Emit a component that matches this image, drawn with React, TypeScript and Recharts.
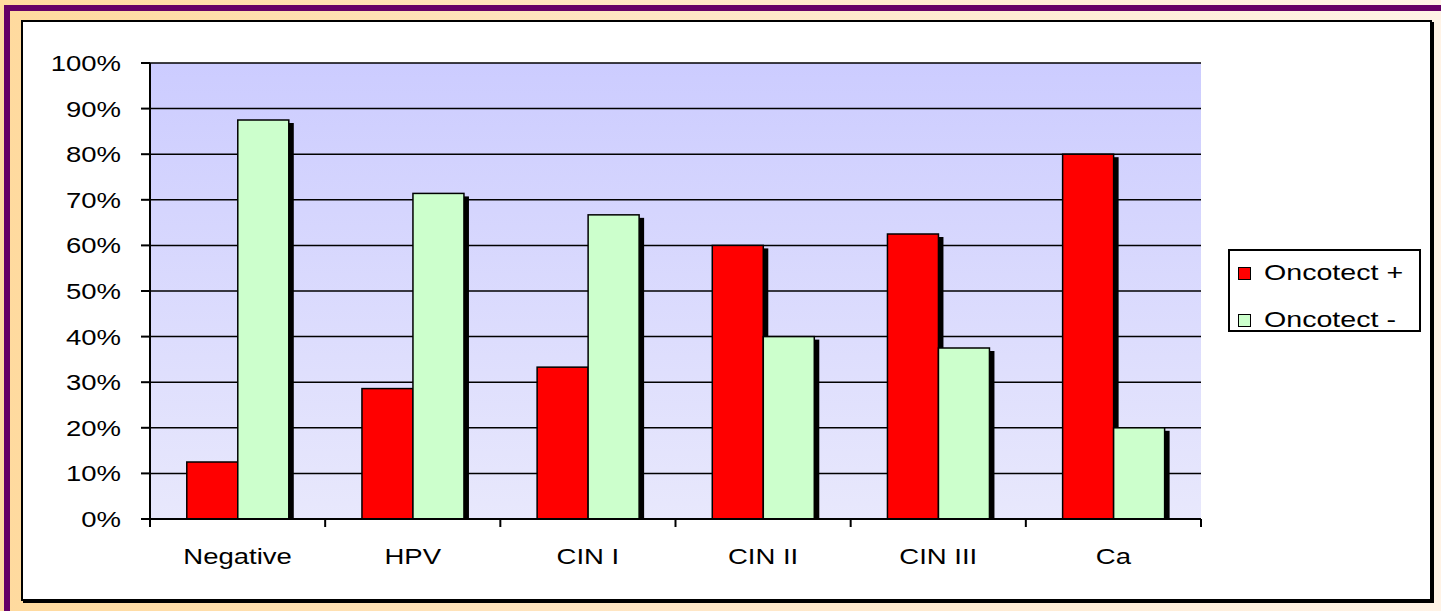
import React from 'react';
import { BarChart, Bar, XAxis, YAxis, CartesianGrid, Legend } from 'recharts';

const categories = ['Negative', 'HPV', 'CIN I', 'CIN II', 'CIN III', 'Ca'];
const oncotectPos = [12.5, 28.6, 33.3, 60, 62.5, 80];
const oncotectNeg = [87.5, 71.4, 66.7, 40, 37.5, 20];
const yTicks = [0, 10, 20, 30, 40, 50, 60, 70, 80, 90, 100];
const seriesNames = ['Oncotect +', 'Oncotect -'];
const seriesColors = ['#FF0000', '#CCFFCC'];

const data = categories.map((name, i) => ({
  name,
  pos: oncotectPos[i],
  neg: oncotectNeg[i],
}));

const FONT = '"Liberation Sans", Arial, sans-serif';

// bar with the old-excel black drop shadow
const ShadowBar = (props: any) => {
  const { x, y, width, height, fill } = props;
  if (!height || height <= 0) return null;
  return (
    <g>
      <rect x={x + 5} y={y + 3} width={width} height={Math.max(0, height - 3)} fill="#000" />
      <rect x={x} y={y} width={width} height={height} fill={fill} stroke="#000" strokeWidth={1.5} />
    </g>
  );
};

const YTick = (props: any) => {
  const { x, y, payload } = props;
  return (
    <text
      transform={`translate(${x},${y + 8}) scale(1.25,1)`}
      textAnchor="end"
      fontFamily={FONT}
      fontSize={22}
      fill="#000"
    >
      {`${payload.value}%`}
    </text>
  );
};

const XTick = (props: any) => {
  const { x, y, payload, index, visibleTicksCount, width } = props;
  const half = payload && payload.offset ? payload.offset : width / visibleTicksCount / 2;
  const last = index === visibleTicksCount - 1;
  return (
    <g>
      <line x1={x - half} x2={x - half} y1={y} y2={y + 8} stroke="#000" strokeWidth={2} />
      {last && <line x1={x + half} x2={x + half} y1={y} y2={y + 8} stroke="#000" strokeWidth={2} />}
      <text
        transform={`translate(${x},${y + 45}) scale(1.25,1)`}
        textAnchor="middle"
        fontFamily={FONT}
        fontSize={22}
        fill="#000"
      >
        {payload.value}
      </text>
    </g>
  );
};

const LegendBox = () => (
  <div
    style={{
      position: 'relative',
      width: 193,
      height: 83,
      border: '2px solid #000',
      background: '#fff',
      boxSizing: 'border-box',
      fontFamily: FONT,
      fontSize: 22,
      color: '#000',
    }}
  >
    {seriesNames.map((n, i) => (
      <div
        key={n}
        style={{
          position: 'absolute',
          left: 8,
          top: 9 + i * 47,
          height: 26,
          display: 'flex',
          alignItems: 'center',
        }}
      >
        <span
          style={{
            width: 11,
            height: 11,
            background: seriesColors[i],
            border: '1.5px solid #000',
            marginRight: 13,
            flex: 'none',
          }}
        />
        <span
          style={{
            display: 'inline-block',
            lineHeight: '26px',
            transform: 'scaleX(1.3)',
            transformOrigin: 'left center',
            whiteSpace: 'nowrap',
          }}
        >
          {n}
        </span>
      </div>
    ))}
  </div>
);

export default function App() {
  return (
    <div
      style={{
        position: 'absolute',
        left: 0,
        top: 0,
        width: 1441,
        height: 611,
        overflow: 'hidden',
        background: 'linear-gradient(to right, #FFDA9E 0%, #FFE6C4 45%, #FFF3E6 100%)',
      }}
    >
      <svg width={0} height={0} style={{ position: 'absolute' }}>
        <defs>
          <linearGradient id="plotBg" x1="0" y1="0" x2="0" y2="1">
            <stop offset="0%" stopColor="#CCCCFF" />
            <stop offset="100%" stopColor="#E8E8FC" />
          </linearGradient>
        </defs>
      </svg>
      {/* purple frame lines */}
      <div style={{ position: 'absolute', left: 4, top: 5, width: 1437, height: 6, background: '#660066' }} />
      <div style={{ position: 'absolute', left: 4, top: 5, width: 6, height: 606, background: '#660066' }} />
      {/* white chart box */}
      <div
        style={{
          position: 'absolute',
          left: 21,
          top: 20,
          width: 1407,
          height: 577,
          background: '#fff',
          border: '2px solid #000',
          boxShadow: '2px 2px 0 #000',
        }}
      />
      <div style={{ position: 'absolute', left: 0, top: 0 }}>
        <BarChart
          width={1441}
          height={611}
          data={data}
          margin={{ top: 63, right: 240, bottom: 52, left: 0 }}
          barCategoryGap="21%"
          barGap={0}
        >
          <CartesianGrid vertical={false} stroke="#000" strokeWidth={1.5} fill="url(#plotBg)" fillOpacity={1} />
          <XAxis
            dataKey="name"
            height={40}
            tickLine={false}
            tickSize={0}
            tickMargin={0}
            axisLine={{ stroke: '#000', strokeWidth: 2 }}
            tick={<XTick />}
            interval={0}
          />
          <XAxis xAxisId="top" dataKey="name" orientation="top" height={0} tick={false} tickLine={false} axisLine={{ stroke: '#888', strokeWidth: 2 }} />
          <YAxis
            domain={[0, 100]}
            ticks={yTicks}
            width={150}
            tickSize={9}
            tickMargin={20}
            tickLine={{ stroke: '#000', strokeWidth: 2 }}
            axisLine={{ stroke: '#000', strokeWidth: 2 }}
            tick={<YTick />}
            interval={0}
          />
          <YAxis yAxisId="right" orientation="right" width={0} domain={[0, 100]} tick={false} tickLine={false} axisLine={{ stroke: '#888', strokeWidth: 2 }} />
          <Legend
            layout="vertical"
            align="center"
            verticalAlign="middle"
            content={<LegendBox />}
            wrapperStyle={{ left: 1228, top: 249, width: 193, height: 83 }}
          />
          <Bar dataKey="pos" name={seriesNames[0]} fill={seriesColors[0]} shape={<ShadowBar />} isAnimationActive={false} />
          <Bar dataKey="neg" name={seriesNames[1]} fill={seriesColors[1]} shape={<ShadowBar />} isAnimationActive={false} />
        </BarChart>
      </div>
    </div>
  );
}
